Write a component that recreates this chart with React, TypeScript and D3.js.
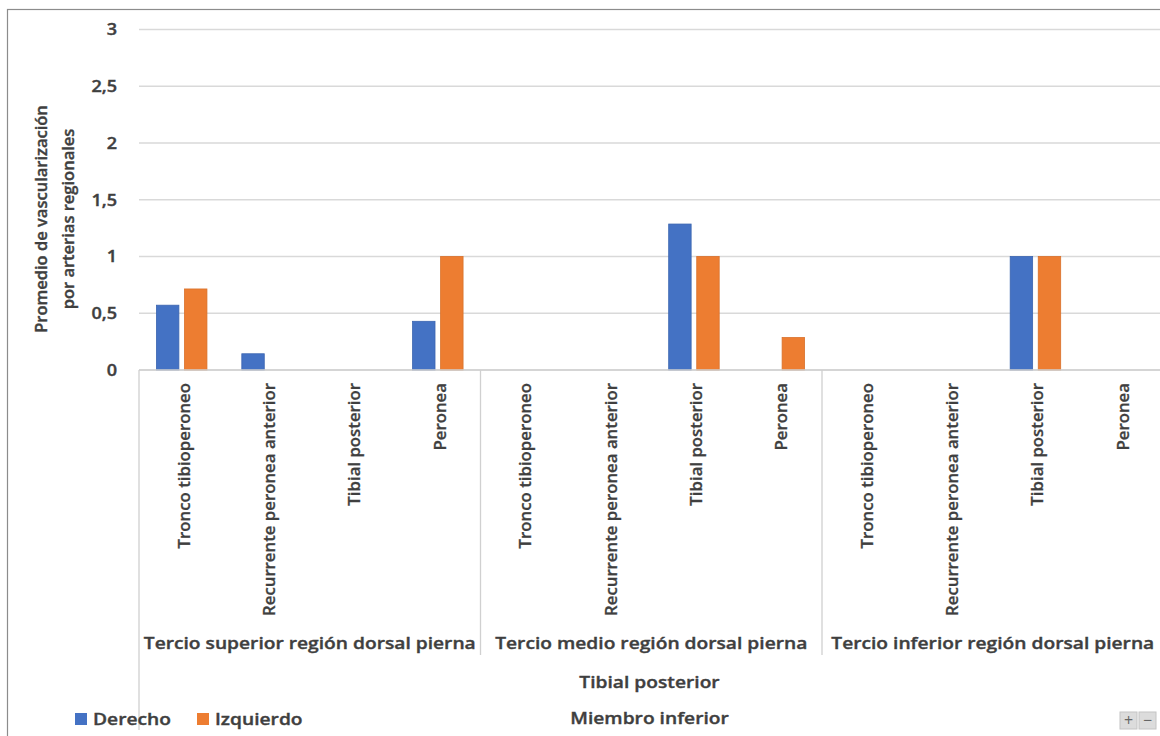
import React, { useEffect, useRef } from "react";
import * as d3 from "d3";

const groups = [
  "Tercio superior región dorsal pierna",
  "Tercio medio región dorsal pierna",
  "Tercio inferior región dorsal pierna",
];
const arteries = ["Tronco tibioperoneo", "Recurrente peronea anterior", "Tibial posterior", "Peronea"];
const seriesNames = ["Derecho", "Izquierdo"];
const derecho = [0.571, 0.143, 0, 0.429, 0, 0, 1.286, 0, 0, 0, 1, 0];
const izquierdo = [0.714, 0, 0, 1, 0, 0, 1, 0.286, 0, 0, 1, 0];
const yTicks = [0, 0.5, 1, 1.5, 2, 2.5, 3];
const yTitle = ["Promedio de vascularización", "por arterias regionales"];
const level2Label = "Tibial posterior";
const level3Label = "Miembro inferior";
const colors = ["#4472C4", "#ED7D31"];

export default function App() {
  const ref = useRef<SVGSVGElement>(null);
  useEffect(() => {
    const svg = d3.select(ref.current);
    svg.selectAll("*").remove();
    const font = "'Open Sans', 'Segoe UI', sans-serif";
    const txt = "#3f3f3f";
    const sw = 0.4;
    const sx = 1.13;
    const left = 139, right = 1163.5, top = 29.5, bottom = 370;

    const hText = (xx: number, yy: number, s: string, anchor: string, size = 17) =>
      svg.append("g").attr("transform", `translate(${xx},${yy}) scale(${sx},1)`)
        .append("text").attr("text-anchor", anchor).attr("font-family", font)
        .attr("font-size", size).attr("font-weight", 600).attr("fill", txt)
        .attr("stroke", txt).attr("stroke-width", sw).text(s);

    svg.append("rect").attr("x", 7.5).attr("y", 9.5).attr("width", 1170).attr("height", 800)
      .attr("fill", "#fff").attr("stroke", "#8c8c8c").attr("stroke-width", 1.2);

    const cats: string[] = [];
    groups.forEach((g, gi) => arteries.forEach((a, ai) => cats.push(`${gi}|${ai}`)));
    const x = d3.scaleBand<string>().domain(cats).range([left, right]).padding(0);
    const xs = d3.scaleBand<string>().domain(seriesNames).range([0, 50.5]).paddingInner(0.2);
    const y = d3.scaleLinear().domain([0, 3]).range([bottom, top]);
    const locale = d3.formatLocale({ decimal: ",", thousands: ".", grouping: [3], currency: ["", "€"] });
    const fmt = locale.format("~g");

    // gridlines
    svg.append("g").selectAll("line").data(yTicks).join("line")
      .attr("x1", left).attr("x2", right + 10)
      .attr("y1", (d) => y(d)).attr("y2", (d) => y(d))
      .attr("stroke", "#d9d9d9").attr("stroke-width", 1.3);

    // y tick labels
    yTicks.forEach((t) => {
      hText(117, y(t) + 5.8, fmt(t), "end", 16);
    });

    // y title
    yTitle.forEach((line, i) => {
      svg.append("text").attr("transform", `translate(${47 + i * 26.5},219) rotate(-90)`)
        .attr("text-anchor", "middle").attr("font-family", font).attr("font-size", 16.5)
        .attr("font-weight", 600).attr("fill", txt).attr("stroke", txt).attr("stroke-width", sw).text(line);
    });

    // bars
    const series = [derecho, izquierdo];
    series.forEach((vals, si) => {
      svg.append("g").selectAll("rect").data(cats.map((c, i) => ({ c, v: vals[i] })).filter((d) => d.v > 0)).join("rect")
        .attr("x", (d) => (x(d.c) as number) + x.bandwidth() / 2 - 25.25 + (xs(seriesNames[si]) as number))
        .attr("width", xs.bandwidth())
        .attr("y", (d) => y(d.v))
        .attr("height", (d) => y(0) - y(d.v))
        .attr("fill", colors[si])
        .attr("stroke", si === 0 ? "#3b65b0" : "#d9712b").attr("stroke-width", 0.8);
    });

    // axis box lines
    const gw = (right - left) / groups.length;
    svg.append("line").attr("x1", left).attr("x2", right + 10).attr("y1", bottom).attr("y2", bottom)
      .attr("stroke", "#d0d0d0").attr("stroke-width", 1.3);
    [0, 1, 2].forEach((i) => {
      svg.append("line").attr("x1", left + i * gw).attr("x2", left + i * gw)
        .attr("y1", bottom).attr("y2", i === 0 ? 730 : 655)
        .attr("stroke", "#d0d0d0").attr("stroke-width", 1.3);
    });

    // category labels
    svg.append("g").selectAll("text").data(cats).join("text")
      .attr("transform", (c) => `translate(${(x(c) as number) + x.bandwidth() / 2 + 8},383) rotate(-90)`)
      .attr("text-anchor", "end").attr("font-family", font).attr("font-size", 16.8)
      .attr("font-weight", 600).attr("fill", txt).attr("stroke", txt).attr("stroke-width", 0.3)
      .text((c) => arteries[+c.split("|")[1]]);

    // group labels
    groups.forEach((g, i) => hText(left + (i + 0.5) * gw, 649, g, "middle"));

    const cx = (left + 1160) / 2;
    hText(cx, 688, level2Label, "middle");
    hText(cx, 724, level3Label, "middle");

    // legend
    const lx = [75, 197];
    seriesNames.forEach((s, i) => {
      svg.append("rect").attr("x", lx[i]).attr("y", 713).attr("width", 12).attr("height", 12).attr("fill", colors[i]);
      hText(lx[i] + 18, 725, s, "start");
    });

    // +/- buttons
    ["+", "−"].forEach((s, i) => {
      const bx = 1120 + i * 19;
      svg.append("rect").attr("x", bx).attr("y", 712).attr("width", 17).attr("height", 17)
        .attr("fill", "#dcdcdc").attr("stroke", "#c4c4c4");
      svg.append("text").attr("x", bx + 8.5).attr("y", 725.5).attr("text-anchor", "middle")
        .attr("font-family", font).attr("font-size", 16).attr("fill", "#666").text(s);
    });
  }, []);
  return (
    <div style={{ position: "absolute", left: 0, top: 0 }}>
      <svg ref={ref} width={1160} height={736} style={{ display: "block" }} />
    </div>
  );
}
